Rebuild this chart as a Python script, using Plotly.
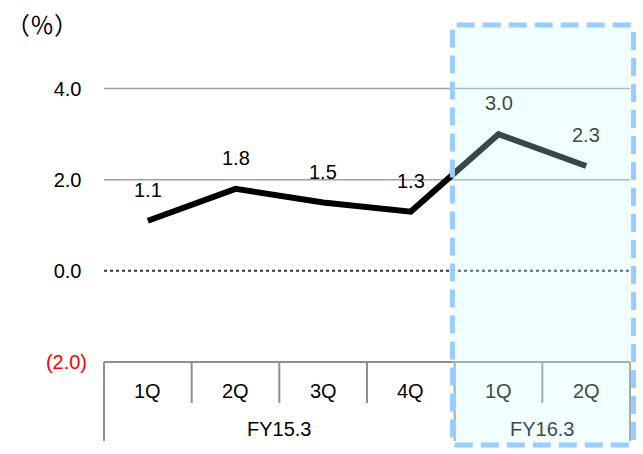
import plotly.graph_objects as go

# Quarterly growth rate (%) by fiscal year
quarters = ["1Q", "2Q", "3Q", "4Q", "1Q", "2Q"]
fiscal_years = ["FY15.3", "FY15.3", "FY15.3", "FY15.3", "FY16.3", "FY16.3"]
growth = [1.1, 1.8, 1.5, 1.3, 3.0, 2.3]
y_tick_vals = [-2.0, 0.0, 2.0, 4.0]
y_tick_text = ['<span style="color:#ff0000">(2.0)</span>', "0.0\u00a0", "2.0\u00a0", "4.0\u00a0"]
grid_levels = [2.0, 4.0]

FONT = "Liberation Sans, Arial, sans-serif"
CJK_FONT = "Noto Sans CJK JP, sans-serif"
TINT_TEXT = "#3f4b4b"
x_pos = list(range(len(quarters)))
n = len(quarters)

fig = go.Figure()
fig.add_trace(go.Scatter(
    x=x_pos, y=growth, mode="lines",
    line=dict(color="#000000", width=6),
    hoverinfo="skip", showlegend=False,
))

shapes = []
# horizontal gridlines
for g in grid_levels:
    shapes.append(dict(type="line", xref="paper", yref="y", x0=0, x1=1, y0=g, y1=g,
                       line=dict(color="#a0a0a0", width=1.5), layer="below"))
# dotted zero line
shapes.append(dict(type="line", xref="paper", yref="y", x0=0, x1=1.005, y0=0, y1=0,
                   line=dict(color="#333333", width=2, dash="dot"), layer="above"))

# category table below the plot
ROW1 = -0.1285   # bottom of the quarter row
ROW2 = -0.2476   # bottom of the fiscal-year row
TABLE = "#8f8f8f"
shapes.append(dict(type="line", xref="paper", yref="paper", x0=0, x1=1, y0=0, y1=0,
                   line=dict(color=TABLE, width=2)))
for k in range(n + 1):
    xp = k / n
    fy_edge = k == 0 or k == n or fiscal_years[k - 1] != fiscal_years[k]
    shapes.append(dict(type="line", xref="paper", yref="paper", x0=xp, x1=xp,
                       y0=0, y1=ROW2 if fy_edge else ROW1,
                       line=dict(color=TABLE, width=2)))

# highlighted current fiscal year: rounded dashed box
bx0, bx1, by0, by1 = 0.6625, 1.0067, -0.260, 1.0564
rx, ry = 0.008, 0.013
box_path = (
    f"M {bx0 + rx},{by1} L {bx1 - rx},{by1} Q {bx1},{by1} {bx1},{by1 - ry} "
    f"L {bx1},{by0 + ry} Q {bx1},{by0} {bx1 - rx},{by0} "
    f"L {bx0 + rx},{by0} Q {bx0},{by0} {bx0},{by0 + ry} "
    f"L {bx0},{by1 - ry} Q {bx0},{by1} {bx0 + rx},{by1} Z"
)
shapes.append(dict(type="path", xref="paper", yref="paper", path=box_path,
                   fillcolor="rgba(204,255,255,0.28)",
                   line=dict(color="#99ccff", width=5, dash="18px,8px"),
                   layer="above"))

annotations = []
# value labels
for xi, v, fy in zip(x_pos, growth, fiscal_years):
    annotations.append(dict(x=xi, y=v, xref="x", yref="y", text=f"{v:.1f}",
                            showarrow=False, yshift=31, yanchor="middle",
                            font=dict(family=FONT, size=20,
                                      color=TINT_TEXT if fy == "FY16.3" else "#000000")))
# quarter labels
for xi, q, fy in zip(x_pos, quarters, fiscal_years):
    annotations.append(dict(x=xi, y=-0.0895, xref="x", yref="paper", text=q,
                            showarrow=False, yanchor="middle",
                            font=dict(family=FONT, size=20,
                                      color=TINT_TEXT if fy == "FY16.3" else "#000000")))
# fiscal-year labels
for fy in dict.fromkeys(fiscal_years):
    idx = [i for i, f in enumerate(fiscal_years) if f == fy]
    annotations.append(dict(x=(idx[0] + idx[-1]) / 2, y=-0.211, xref="x", yref="paper",
                            text=fy, showarrow=False, yanchor="middle",
                            font=dict(family=FONT, size=20,
                                      color=TINT_TEXT if fy == "FY16.3" else "#000000")))
# unit label
annotations.append(dict(x=-0.118, y=1.06, xref="paper", yref="paper", text="（％）",
                        showarrow=False, xanchor="center", yanchor="middle",
                        font=dict(family=CJK_FONT, size=24, color="#000000")))

fig.update_layout(
    width=643, height=454,
    margin=dict(l=104, r=13, t=43, b=92, pad=0),
    paper_bgcolor="#ffffff", plot_bgcolor="rgba(0,0,0,0)",
    font=dict(family=FONT, size=20, color="#000000"),
    xaxis=dict(range=[-0.5, n - 0.5], showgrid=False, zeroline=False,
               showticklabels=False, showline=False, fixedrange=True),
    yaxis=dict(range=[-2, 5], tickvals=y_tick_vals, ticktext=y_tick_text,
               showgrid=False, zeroline=False, showline=False, ticks="",
               ticklabelstandoff=16, tickfont=dict(family=FONT, size=20, color="#000000"),
               fixedrange=True),
    shapes=shapes, annotations=annotations,
    showlegend=False,
)

fig.write_html("out.html")
